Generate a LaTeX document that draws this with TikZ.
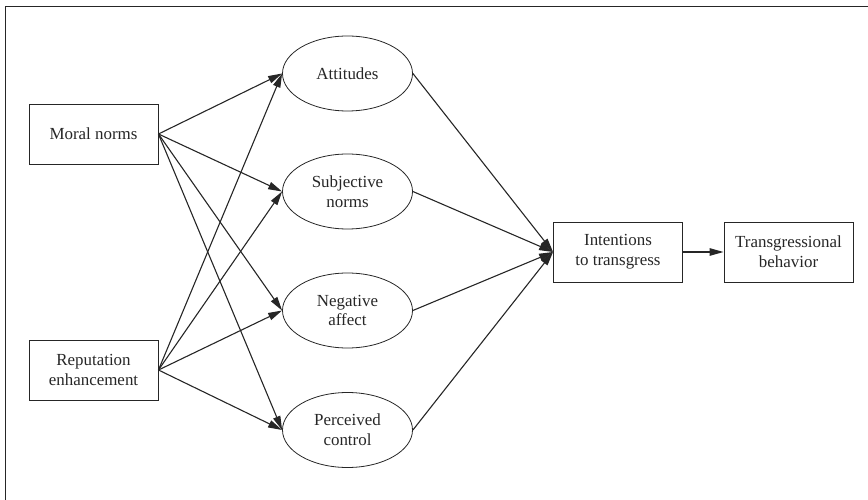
\documentclass[tikz,border=0pt]{standalone}
\usepackage{fontspec}
\setmainfont{Liberation Serif}
\usetikzlibrary{arrows.meta,shapes.geometric}
\definecolor{ink}{gray}{0.15}
\begin{document}
\begin{tikzpicture}[x=1bp,y=-1bp,
  every node/.style={font=\fontsize{17}{20}\selectfont, text=ink, align=center},
  boxnode/.style={draw=ink, line width=0.9bp, rectangle, minimum width=129bp, minimum height=60bp, inner sep=0pt},
  ellnode/.style={draw=ink, line width=0.8bp, ellipse, minimum width=130bp, minimum height=75bp, inner sep=0pt},
  conn/.style={draw=ink, line width=1.1bp, -{Triangle[length=14bp,width=7.5bp]}}]
\useasboundingbox (0,0) rectangle (868,500);
% frame
\draw[ink, line width=1.3bp] (5.5,500) -- (5.5,6.5) -- (868,6.5);
% nodes
\node[boxnode] (moral) at (93.5,134) {Moral norms};
\node[boxnode] (rep) at (93.5,370) {Reputation\\enhancement};
\node[ellnode] (att) at (347.5,73.5) {Attitudes};
\node[ellnode] (subj) at (347.5,191.5) {Subjective\\norms};
\node[ellnode] (neg) at (347.5,310.5) {Negative\\affect};
\node[ellnode] (perc) at (347.5,430) {Perceived\\control};
\node[boxnode] (int) at (618,252) {Intentions\\to transgress};
\node[boxnode] (beh) at (788.5,252) {Transgressional\\behavior};
% connectors
\foreach \t in {att,subj,neg,perc}{
  \draw[conn] (moral.east) -- (\t.west);
  \draw[conn] (rep.east) -- (\t.west);
  \draw[conn] (\t.east) -- (int.west);
}
\draw[conn] (int.east) -- (beh.west);
\end{tikzpicture}
\end{document}
